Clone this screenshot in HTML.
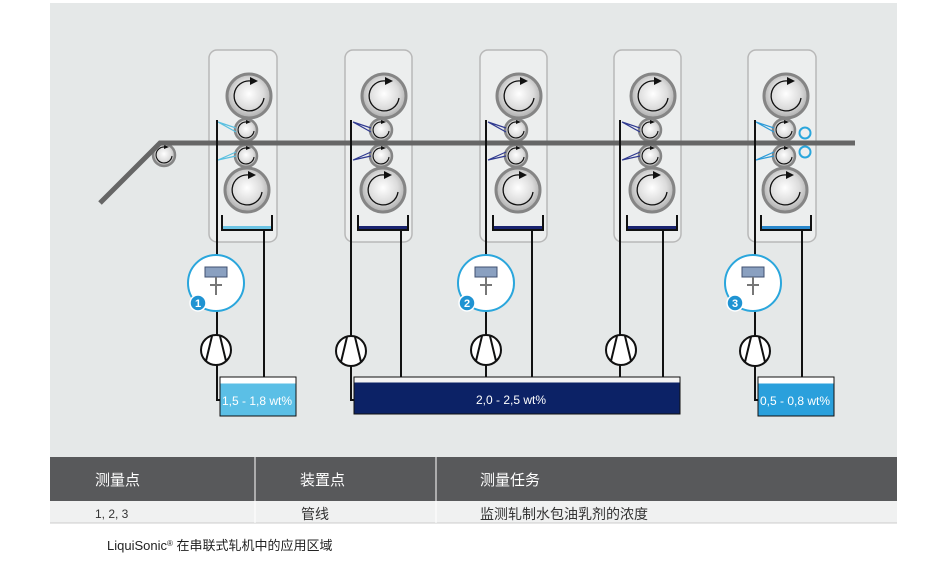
<!DOCTYPE html>
<html><head><meta charset="utf-8"><style>
body{margin:0;background:#fff;width:950px;height:569px;overflow:hidden}
svg{display:block}
</style></head><body>
<svg width="950" height="569" viewBox="0 0 950 569" xmlns="http://www.w3.org/2000/svg" font-family="Liberation Sans, Noto Sans CJK SC, sans-serif">
<defs>
<radialGradient id="rg" cx="0.5" cy="0.45" r="0.6"><stop offset="0" stop-color="#fff"/><stop offset="0.55" stop-color="#dcdcdc"/><stop offset="1" stop-color="#a0a0a0"/></radialGradient>
<symbol id="big" viewBox="-24 -24 48 48" overflow="visible">
<circle r="22" fill="url(#rg)" stroke="#858585" stroke-width="3"/>
<path d="M2 -15 A15 15 0 1 0 15 2" fill="none" stroke="#111" stroke-width="1.3"/>
<path d="M1 -19 L9 -15 L1 -11 Z" fill="#111"/>
</symbol>
<symbol id="sm" viewBox="-13 -13 26 26" overflow="visible">
<circle r="11" fill="url(#rg)" stroke="#858585" stroke-width="2.5"/>
<path d="M1 -8 A8 8 0 1 0 8 1" fill="none" stroke="#111" stroke-width="1.1"/>
<path d="M0 -10 L5 -8 L0 -6 Z" fill="#111"/>
</symbol>
<symbol id="pump" viewBox="-17 -17 34 34" overflow="visible">
<circle r="15" fill="#fff" stroke="#111" stroke-width="2"/>
<path d="M-4 -14 L-10 11 M4 -14 L10 11" stroke="#111" stroke-width="2"/>
</symbol>
<symbol id="sens" viewBox="-30 -30 60 60" overflow="visible">
<circle r="28" fill="#fff" stroke="#2aa6dc" stroke-width="2"/>
<rect x="-11" y="-16" width="22" height="10" fill="#8aa0c0" stroke="#405070"/>
<path d="M0 -6 V12 M-6 2 H6" stroke="#777" stroke-width="2"/>
</symbol>
</defs>
<rect x="50" y="3" width="847" height="454" fill="#e5e8e8"/>
<g fill="#eceeee" stroke="#b8b8b8" stroke-width="1.5">
<rect x="209" y="50" width="68" height="192" rx="8"/>
<rect x="345" y="50" width="67" height="192" rx="8"/>
<rect x="480" y="50" width="67" height="192" rx="8"/>
<rect x="614" y="50" width="67" height="192" rx="8"/>
<rect x="748" y="50" width="68" height="192" rx="8"/>
</g>
<g>
<use href="#big" x="225" y="72" width="48" height="48"/><use href="#sm" x="233" y="117" width="26" height="26"/><use href="#sm" x="233" y="143" width="26" height="26"/><use href="#big" x="223" y="166" width="48" height="48"/>
<use href="#big" x="360" y="72" width="48" height="48"/><use href="#sm" x="368" y="117" width="26" height="26"/><use href="#sm" x="368" y="143" width="26" height="26"/><use href="#big" x="359" y="166" width="48" height="48"/>
<use href="#big" x="495" y="72" width="48" height="48"/><use href="#sm" x="503" y="117" width="26" height="26"/><use href="#sm" x="503" y="143" width="26" height="26"/><use href="#big" x="494" y="166" width="48" height="48"/>
<use href="#big" x="629" y="72" width="48" height="48"/><use href="#sm" x="637" y="117" width="26" height="26"/><use href="#sm" x="637" y="143" width="26" height="26"/><use href="#big" x="628" y="166" width="48" height="48"/>
<use href="#big" x="762" y="72" width="48" height="48"/><use href="#sm" x="771" y="117" width="26" height="26"/><use href="#sm" x="771" y="143" width="26" height="26"/><use href="#big" x="761" y="166" width="48" height="48"/>
<use href="#sm" x="151" y="142" width="26" height="26"/>
</g>
<circle cx="805" cy="133" r="5.5" fill="#eee" stroke="#2aa6dc" stroke-width="2"/>
<circle cx="805" cy="152" r="5.5" fill="#eee" stroke="#2aa6dc" stroke-width="2"/>
<path d="M100 203 L160 143 L855 143" fill="none" stroke="#666" stroke-width="5"/>
<g stroke-width="1.2" fill="none">
<path d="M218 122 L236 128 M218 122 L236 132 M218 160 L236 152 M218 160 L236 156" stroke="#5bc0e0"/>
<path d="M353 122 L371 128 M353 122 L371 132 M353 160 L371 152 M353 160 L371 156" stroke="#303a90"/>
<path d="M488 122 L506 128 M488 122 L506 132 M488 160 L506 152 M488 160 L506 156" stroke="#303a90"/>
<path d="M622 122 L640 128 M622 122 L640 132 M622 160 L640 152 M622 160 L640 156" stroke="#303a90"/>
<path d="M756 122 L774 128 M756 122 L774 132 M756 160 L774 152 M756 160 L774 156" stroke="#2a9ad8"/>
</g>
<g stroke="#111" stroke-width="2" fill="none">
<path d="M222 215 V230 H272 V215"/><path d="M358 215 V230 H408 V215"/><path d="M493 215 V230 H543 V215"/><path d="M627 215 V230 H677 V215"/><path d="M761 215 V230 H811 V215"/>
</g>
<rect x="223" y="226" width="48" height="3" fill="#6cc4e4"/>
<rect x="359" y="226" width="48" height="3" fill="#1a2470"/>
<rect x="494" y="226" width="48" height="3" fill="#1a2470"/>
<rect x="628" y="226" width="48" height="3" fill="#1a2470"/>
<rect x="762" y="226" width="48" height="3" fill="#2a88cc"/>
<g stroke="#111" stroke-width="2" fill="none">
<path d="M217 120 V400 H222"/><path d="M264 230 V378"/>
<path d="M351 120 V400 H356"/><path d="M401 230 V378"/>
<path d="M486 120 V378"/><path d="M532 230 V378"/>
<path d="M620 120 V378"/><path d="M663 230 V378"/>
<path d="M755 120 V400 H760"/><path d="M802 230 V378"/>
</g>
<use href="#sens" x="186" y="253" width="60" height="60"/>
<use href="#sens" x="456" y="253" width="60" height="60"/>
<use href="#sens" x="723" y="253" width="60" height="60"/>
<g fill="#1f93d2" stroke="#fff" stroke-width="1.5"><circle cx="198" cy="303" r="8"/><circle cx="467" cy="303" r="8"/><circle cx="735" cy="303" r="8"/></g>
<g fill="#fff" font-size="11" font-weight="bold" text-anchor="middle"><text x="198" y="307">1</text><text x="467" y="307">2</text><text x="735" y="307">3</text></g>
<use href="#pump" x="199" y="333" width="34" height="34"/>
<use href="#pump" x="334" y="334" width="34" height="34"/>
<use href="#pump" x="469" y="333" width="34" height="34"/>
<use href="#pump" x="604" y="333" width="34" height="34"/>
<use href="#pump" x="738" y="334" width="34" height="34"/>
<rect x="220" y="377" width="76" height="39" fill="#5bbfe6" stroke="#111" stroke-width="1"/>
<rect x="220.5" y="377.5" width="75" height="6" fill="#fff"/>
<rect x="354" y="377" width="326" height="37" fill="#0c2266" stroke="#111" stroke-width="1"/>
<rect x="354.5" y="377.5" width="325" height="5" fill="#f4f4f4"/>
<rect x="758" y="377" width="76" height="39" fill="#2aa0dc" stroke="#111" stroke-width="1"/>
<rect x="758.5" y="377.5" width="75" height="6" fill="#fff"/>
<g fill="#fff" font-size="12"><text x="222" y="405">1,5 - 1,8 wt%</text><text x="476" y="404">2,0 - 2,5 wt%</text><text x="760" y="405">0,5 - 0,8 wt%</text></g>
<rect x="50" y="457" width="847" height="44" fill="#58595b"/>
<rect x="50" y="501" width="847" height="22" fill="#f0f1f1"/>
<line x1="50" y1="523" x2="897" y2="523" stroke="#ccc"/>
<g stroke="#fff" stroke-width="1"><line x1="255" y1="457" x2="255" y2="523"/><line x1="436" y1="457" x2="436" y2="523"/></g>
<g fill="#fff" font-size="15"><text x="95" y="485">测量点</text><text x="300" y="485">装置点</text><text x="480" y="485">测量任务</text></g>
<g fill="#333"><text x="95" y="518" font-size="12">1, 2, 3</text><text x="301" y="519" font-size="14">管线</text><text x="480" y="519" font-size="14">监测轧制水包油乳剂的浓度</text></g>
<text x="107" y="550" font-size="13" fill="#222">LiquiSonic<tspan font-size="8" dy="-4">®</tspan><tspan dy="4"> 在串联式轧机中的应用区域</tspan></text>
</svg>
</body></html>
